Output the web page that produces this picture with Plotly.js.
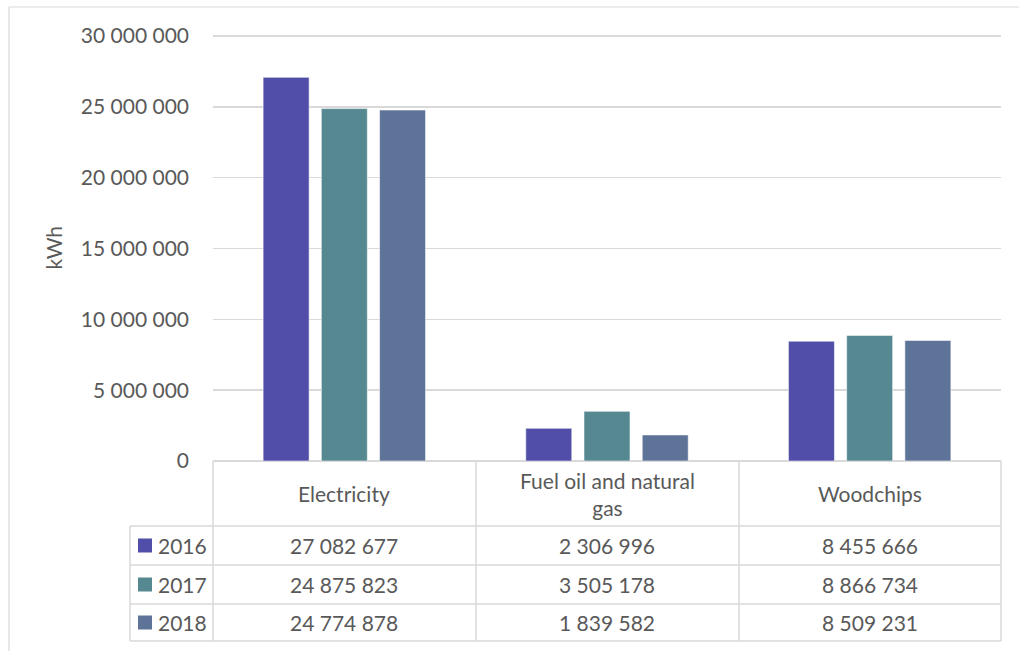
<!DOCTYPE html>
<html>
<head>
<meta charset="utf-8">
<script src="https://cdn.plot.ly/plotly-3.0.1.min.js"></script>
<style>html,body{margin:0;padding:0;background:#fff;}#chart{width:1019px;height:651px;}</style>
</head>
<body>
<div id="chart"></div>
<script>
// ---- data ----
const categories = ["Electricity", "Fuel oil and natural gas", "Woodchips"];
const categoryLabels = ["Electricity", "Fuel oil and natural<br>gas", "Woodchips"];
const years = ["2016", "2017", "2018"];
const values2016 = [27082677, 2306996, 8455666];
const values2017 = [24875823, 3505178, 8866734];
const values2018 = [24774878, 1839582, 8509231];
const yTickValues = [0, 5000000, 10000000, 15000000, 20000000, 25000000, 30000000];

// ---- styling ----
const W = 1019, H = 651;
const colors = ["#504ea8", "#558890", "#5d7398"];
const textColor = "#595959";
const lineColor = "#d9d9d9";
const fontFamily = "Lato, 'Open Sans', sans-serif";
const fs = 21;
const px = x => x / W;
const py = y => 1 - y / H;

const yMax = 30100000;
const plotL = 213, plotR = 1001, plotB = 461;
const pxPerUnit = (461 - 36) / 30000000;
const plotT = plotB - yMax * pxPerUnit;
const tableLeft = 130;
const rowLines = [526, 565, 604, 641];
const colLines = [213, 476, 739, 1001];

const series = [values2016, values2017, values2018];
const traces = series.map((vals, i) => ({
  type: "bar",
  name: years[i],
  x: categories,
  y: vals,
  marker: { color: colors[i], line: { color: "rgba(255,255,255,0.55)", width: 1 } },
  hoverinfo: "x+y+name"
}));

function fmt(v) { return String(v).replace(/\B(?=(\d{3})+(?!\d))/g, " "); }

const shapes = [];
const annotations = [];
function hline(y, x0, x1) {
  shapes.push({ type: "line", xref: "paper", yref: "paper", x0: px(x0), x1: px(x1), y0: py(y), y1: py(y),
    line: { color: lineColor, width: 1.5 } });
}
function vline(x, y0, y1) {
  shapes.push({ type: "line", xref: "paper", yref: "paper", x0: px(x), x1: px(x), y0: py(y0), y1: py(y1),
    line: { color: lineColor, width: 1.5 } });
}
// chart outer border (top and left visible)
shapes.push({ type: "line", xref: "paper", yref: "paper", x0: px(9), x1: px(1019), y0: py(7), y1: py(7), line: { color: lineColor, width: 1.2 } });
shapes.push({ type: "line", xref: "paper", yref: "paper", x0: px(9), x1: px(9), y0: py(7), y1: py(651), line: { color: lineColor, width: 1.2 } });

// table grid
colLines.forEach(x => vline(x, plotB, rowLines[rowLines.length - 1]));
vline(tableLeft, rowLines[0], rowLines[rowLines.length - 1]);
rowLines.forEach(y => hline(y, tableLeft, plotR));

// header labels
const headerMid = (plotB + rowLines[0]) / 2;
categoryLabels.forEach((c, j) => {
  annotations.push({ xref: "x", yref: "paper", x: categories[j], y: py(headerMid), text: c, showarrow: false,
    font: { family: fontFamily, size: fs, color: textColor }, align: "center", yanchor: "middle", xanchor: "center" });
});
// rows
years.forEach((yr, i) => {
  const mid = (rowLines[i] + rowLines[i + 1]) / 2;
  shapes.push({ type: "rect", xref: "paper", yref: "paper", x0: px(138), x1: px(152), y0: py(mid + 7), y1: py(mid - 7),
    fillcolor: colors[i], line: { width: 0 } });
  annotations.push({ xref: "paper", yref: "paper", x: px(156), y: py(mid), text: yr, showarrow: false,
    font: { family: fontFamily, size: fs, color: textColor }, xanchor: "left", yanchor: "middle" });
  series[i].forEach((v, j) => {
    annotations.push({ xref: "x", yref: "paper", x: categories[j], y: py(mid), text: fmt(v), showarrow: false,
      font: { family: fontFamily, size: fs, color: textColor }, xanchor: "center", yanchor: "middle" });
  });
});

const layout = {
  width: W, height: H,
  margin: { l: 0, r: 0, t: 0, b: 0 },
  paper_bgcolor: "#fff", plot_bgcolor: "#fff",
  separators: ", ",
  showlegend: false,
  barmode: "group",
  bargap: 0.335,
  bargroupgap: 0.21,
  font: { family: fontFamily, color: textColor },
  xaxis: {
    domain: [px(plotL), px(plotR)],
    showticklabels: false, showgrid: false, zeroline: false, showline: false, ticks: "",
    fixedrange: true
  },
  yaxis: {
    domain: [py(plotB), py(plotT)],
    range: [0, yMax],
    tickvals: yTickValues,
    tickformat: ",d",
    showgrid: true, gridcolor: lineColor, gridwidth: 1.5,
    zeroline: true, zerolinecolor: lineColor, zerolinewidth: 1.5,
    showline: false, ticks: "",
    ticklabelstandoff: 23,
    tickfont: { family: fontFamily, size: fs, color: textColor },
    title: { text: "kWh", font: { family: fontFamily, size: fs, color: textColor }, standoff: 12 },
    fixedrange: true
  },
  shapes: shapes,
  annotations: annotations
};

Plotly.newPlot("chart", traces, layout, { displayModeBar: false, staticPlot: true });
</script>
</body>
</html>
